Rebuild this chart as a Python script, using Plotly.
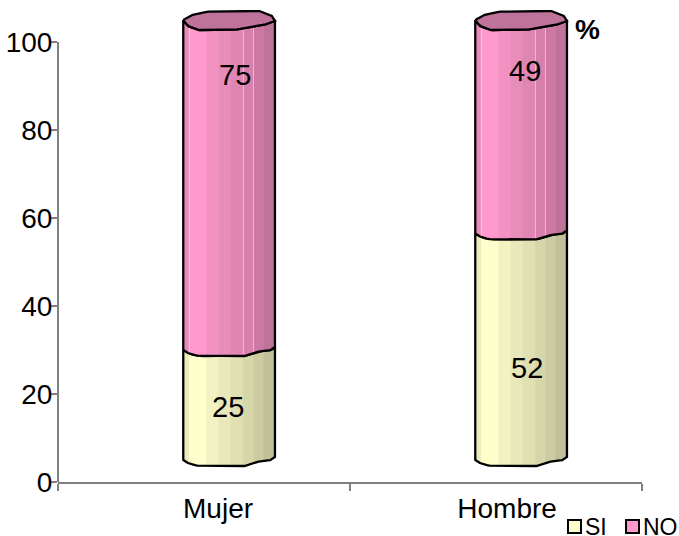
import numpy as np
import plotly.graph_objects as go

categories = ["Mujer", "Hombre"]
si_values = [25, 52]
no_values = [75, 49]
si_label_y = [17, 26]
no_label_y = [92.5, 93.5]
si_label_x = [0.582, 1.606]
no_label_x = [0.606, 1.6]
y_ticks = [0, 20, 40, 60, 80, 100]

PX = 4.4
BASE = 5.0
YMAX = 472 / PX
CENTERS = [0.586, 1.586]
HALF = 0.157
FONT = "Liberation Sans, Arial, sans-serif"
EDGE_U = [0, .066, .256, .388, .52, .656, .766, .876, 1]
PINK = ["#e88cba", "#ff99cc", "#f292c2", "#e88cba", "#e086b3", "#d680ab", "#cc7aa3", "#c0739a"]
YELL = ["#ebebbc", "#ffffcc", "#f2f2c2", "#e8e8ba", "#e0e0b3", "#d6d6ab", "#ccccA3", "#c0c09a"]
TOP_PINK = "#c0739a"

FRONT_U = [0, .05, .1, .17, .67, .84, .96, 1]
FRONT_D = [0, 3, 4.5, 6, 6, 1, 0, -3]
TOPF_U = [0, .05, .17, .54, .76, .91, 1]
TOPF_D = [0, 6, 10, 10, 7, 4, 1]
TOPB_U = [0, .12, .32, .83, .97, 1]
TOPB_D = [0, -6, -9, -9, -4, 1]


def drop(u, prof_u, prof_d):
    return np.interp(u, prof_u, prof_d) / PX


fig = go.Figure()

# y-axis line, kept to the 0-100 span of the scale
fig.add_shape(type="line", xref="paper", yref="paper", x0=0, x1=0, y0=0, y1=100 / YMAX,
              line=dict(color="#808080", width=2), layer="above")


def poly(xs, ys, fill=None, line=None):
    fig.add_trace(go.Scatter(
        x=list(xs) + [xs[0]], y=list(ys) + [ys[0]], mode="lines", showlegend=False, hoverinfo="skip",
        fill="toself" if fill else None, fillcolor=fill,
        line=dict(color=line or fill, width=2.3 if line else 0.6),
    ))


def segment(cx, lo, hi, colors, upper=(FRONT_U, FRONT_D), glints=()):
    for i, col in enumerate(colors):
        u = np.linspace(EDGE_U[i], EDGE_U[i + 1], 8)
        xs = cx - HALF + 2 * HALF * u
        top = hi - drop(u, *upper)
        bot = lo - drop(u, FRONT_U, FRONT_D)
        poly(np.r_[xs, xs[::-1]], np.r_[top, bot[::-1]], fill=col)
    for g in glints:
        gx = cx - HALF + 2 * HALF * g
        fig.add_trace(go.Scatter(x=[gx, gx], y=[lo - drop(g, FRONT_U, FRONT_D), hi - drop(g, *upper)],
                                 mode="lines", showlegend=False, hoverinfo="skip",
                                 line=dict(color="rgba(255,255,255,0.45)", width=1)))
    u = np.linspace(0, 1, 40)
    xs = cx - HALF + 2 * HALF * u
    poly(np.r_[xs, xs[::-1]],
         np.r_[hi - drop(u, *upper), (lo - drop(u, FRONT_U, FRONT_D))[::-1]], line="#000000")


for cx, si, no in zip(CENTERS, si_values, no_values):
    total = si + no
    s = si * 100 / total
    segment(cx, BASE, BASE + s, YELL)
    segment(cx, BASE + s, BASE + 100, PINK, upper=(TOPF_U, TOPF_D), glints=(.066, .656, .766))
    u = np.linspace(0, 1, 30)
    xs = cx - HALF + 2 * HALF * u
    poly(np.r_[xs, xs[::-1]],
         np.r_[BASE + 100 - drop(u, TOPF_U, TOPF_D), (BASE + 100 - drop(u, TOPB_U, TOPB_D))[::-1]],
         fill=TOP_PINK, line="#000000")

lab = dict(showarrow=False, font=dict(size=29, color="#000", family=FONT))
for x, y, t in zip(si_label_x, si_label_y, si_values):
    fig.add_annotation(x=x, y=y, text=str(t), **lab)
for x, y, t in zip(no_label_x, no_label_y, no_values):
    fig.add_annotation(x=x, y=y, text=str(t), **lab)
fig.add_annotation(x=1.815, y=102.8, text="<b>%</b>", showarrow=False,
                   font=dict(size=28, color="#000", family=FONT))

# legend keys and names, below the axis, in fractions of the plot area
KEY_W = 13 / 584
KEY_H = 13 / 472
KEY_Y = -38 / 472
for name, col, kx in (("SI", "#ffffcc", 510 / 584), ("NO", "#ff99cc", 568 / 584)):
    fig.add_shape(type="rect", xref="paper", yref="paper", x0=kx, x1=kx + KEY_W, y0=KEY_Y - KEY_H, y1=KEY_Y,
                  fillcolor=col, line=dict(color="#000000", width=2), layer="above")
    fig.add_annotation(xref="paper", yref="paper", x=kx + KEY_W + 2 / 584, y=KEY_Y - KEY_H / 2, text=name,
                       xanchor="left", yanchor="middle", showarrow=False,
                       font=dict(size=23, color="#000", family=FONT))

fig.update_layout(
    width=679, height=536, autosize=False, paper_bgcolor="#fff", plot_bgcolor="#fff",
    margin=dict(l=58, r=37, t=10, b=54, autoexpand=False),
    font=dict(family=FONT, size=28, color="#000"),
    showlegend=False,
    xaxis=dict(range=[0, 2], tickmode="array", tickvals=[0.548, 1.538], ticktext=categories,
               ticks="", ticklen=0, showgrid=False, zeroline=False, showline=True,
               linecolor="#808080", linewidth=2, tickfont=dict(size=28),
               minor=dict(tickmode="array", tickvals=[0, 1, 2], ticks="outside", ticklen=7,
                          tickcolor="#808080", tickwidth=2)),
    yaxis=dict(range=[0, YMAX], tickmode="array", tickvals=y_ticks, ticks="outside", ticklen=6,
               tickcolor="#808080", tickwidth=2, showgrid=False, zeroline=False, showline=False,
               tickfont=dict(size=28), ticklabelstandoff=-7),
)
fig.write_html("out.html", config=dict(displayModeBar=False),
               post_script="document.body.style.margin='0';document.documentElement.style.overflow='hidden';")
